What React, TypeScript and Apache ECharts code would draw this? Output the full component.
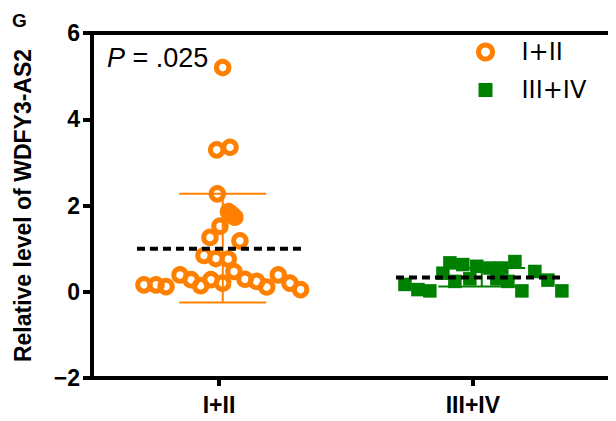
import React, { useEffect, useRef } from "react";
import * as echarts from "echarts";

const categories = ["I+II", "III+IV"];
const categoryPositions = [1, 3];

// Group I+II: values and horizontal scatter offsets
const groupAValues = [5.2, 3.29, 3.35, 2.27, 1.86, 1.8, 1.73, 1.52, 1.26, 1.18, 0.84, 0.77, 0.76, 0.39, 0.28, 0.14, 0.28, 0.2, 0.47, 0.29, 0.24, 0.11, 0.39, 0.2, 0.05, 0.16, 0.16, 0.12];
const groupAOffsets = [0.029, -0.018, 0.087, -0.013, 0.075, 0.1, 0.125, 0.008, -0.071, 0.165, -0.118, -0.024, 0.073, -0.307, -0.22, -0.144, -0.063, 0.029, 0.118, 0.205, 0.297, 0.376, 0.467, 0.559, 0.643, -0.591, -0.496, -0.417];

// Group III+IV
const groupBValues = [0.17, 0.05, 0.02, 0.43, 0.67, 0.24, 0.63, 0.3, 0.59, 0.55, 0.3, 0.55, 0.24, 0.7, 0.02, 0.47, 0.27, 0.02];
const groupBOffsets = [-0.535, -0.433, -0.339, -0.236, -0.181, -0.142, -0.079, -0.024, 0.031, 0.134, 0.189, 0.228, 0.276, 0.331, 0.386, 0.488, 0.591, 0.701];

const means = [1.0, 0.33];
const meanOffsets = [0, 0.04];
const sdLower = [-0.25, 0.12];
const sdUpper = [2.27, 0.55];
const errOffsets = [0.03, 0.07];

const yTicks = { min: -2, max: 6, interval: 2 };
const pValueText = ".025";
const panelLabel = "G";

const ORANGE = "#FF8000";
const GREEN = "#008000";
const FONT = "Liberation Sans";

export default function App() {
  const ref = useRef<HTMLDivElement>(null);
  useEffect(() => {
    if (!ref.current) return;
    const chart = echarts.init(ref.current, null, { renderer: "svg" });
    const aData = groupAValues.map((v, i) => [categoryPositions[0] + groupAOffsets[i], v]);
    const bData = groupBValues.map((v, i) => [categoryPositions[1] + groupBOffsets[i], v]);
    const meanData = means.map((m, i) => [categoryPositions[i] + meanOffsets[i], m]);
    const errData = means.map((m, i) => [categoryPositions[i] + errOffsets[i], sdLower[i], sdUpper[i]]);
    const errColors = [ORANGE, GREEN];

    chart.setOption({
      animation: false,
      grid: {
        left: 92,
        right: 6,
        top: 33,
        bottom: 43,
        show: true,
        borderColor: "#000",
        borderWidth: 4,
      },
      xAxis: {
        type: "value",
        min: 0,
        max: 4.08,
        splitLine: { show: false },
        axisLine: { show: true, onZero: false, lineStyle: { color: "#000", width: 4 } },
        axisTick: { show: true, customValues: categoryPositions, length: 8, lineStyle: { width: 4, color: "#000" } },
        axisLabel: {
          customValues: categoryPositions,
          formatter: (v: number) => categories[categoryPositions.indexOf(v)] ?? "",
          fontFamily: FONT,
          fontWeight: "bold",
          fontSize: 23,
          color: "#000",
          margin: 15,
        },
      },
      yAxis: {
        type: "value",
        min: yTicks.min,
        max: yTicks.max,
        interval: yTicks.interval,
        name: "Relative level of WDFY3-AS2",
        nameLocation: "middle",
        nameGap: 58,
        nameTextStyle: { fontFamily: FONT, fontWeight: "bold", fontSize: 23, color: "#000" },
        splitLine: { show: false },
        axisLine: { show: true, onZero: false, lineStyle: { color: "#000", width: 4 } },
        axisTick: { show: true, length: 9, lineStyle: { width: 4, color: "#000" } },
        axisLabel: {
          fontFamily: FONT,
          fontWeight: "bold",
          fontSize: 23,
          color: "#000",
          margin: 12,
          formatter: (v: number) => (v < 0 ? "\u2212" + Math.abs(v) : String(v)),
        },
      },
      legend: {
        orient: "vertical",
        left: 476,
        top: 38,
        padding: 0,
        itemWidth: 14,
        itemHeight: 14,
        itemGap: 10,
        textStyle: { fontFamily: "DejaVu Sans", fontSize: 24, color: "#000", lineHeight: 28, padding: [0, 0, 0, 24] },
        data: [
          { name: categories[0], icon: "circle", itemStyle: { color: "rgba(0,0,0,0)", borderColor: ORANGE, borderWidth: 5, opacity: 1 } },
          { name: categories[1], icon: "rect", itemStyle: { color: GREEN, borderWidth: 0, opacity: 1 } },
        ],
      },
      graphic: [
        {
          type: "text",
          x: 12,
          y: 20,
          style: {
            text: "{g|" + panelLabel + "}",
            fontFamily: FONT,
            fontSize: 19,
            fontWeight: "bold",
            fill: "#000",
            verticalAlign: "middle",
            rich: { g: { fontSize: 19, fontWeight: "bold", fontFamily: FONT } },
          },
        },
        {
          type: "text",
          x: 107,
          y: 58,
          style: {
            text: "{i|P} = " + pValueText,
            fontFamily: FONT,
            fontSize: 27,
            fill: "#000",
            verticalAlign: "middle",
            rich: { i: { fontStyle: "italic", fontSize: 27, fontFamily: FONT } },
          },
        },
      ],
      series: [
        {
          name: categories[0],
          type: "scatter",
          symbol: "circle",
          symbolSize: 12.5,
          itemStyle: { color: "rgba(0,0,0,0)", borderColor: ORANGE, borderWidth: 5, opacity: 1 },
          data: aData,
          z: 2,
        },
        {
          name: categories[1],
          type: "scatter",
          symbol: "rect",
          symbolSize: 13.5,
          itemStyle: { color: GREEN, opacity: 1 },
          data: bData,
          z: 2,
        },
        {
          type: "custom",
          name: "sd",
          z: 3,
          data: errData,
          renderItem: (params: any, api: any) => {
            const x = api.value(0);
            const lo = api.coord([x, api.value(1)]);
            const hi = api.coord([x, api.value(2)]);
            const color = errColors[params.dataIndex];
            const half = 43.5;
            const style = { stroke: color, lineWidth: 2 };
            return {
              type: "group",
              children: [
                { type: "line", shape: { x1: lo[0], y1: lo[1], x2: hi[0], y2: hi[1] }, style },
                { type: "line", shape: { x1: lo[0] - half, y1: lo[1], x2: lo[0] + half, y2: lo[1] }, style },
                { type: "line", shape: { x1: hi[0] - half, y1: hi[1], x2: hi[0] + half, y2: hi[1] }, style },
              ],
            };
          },
        },
        {
          type: "custom",
          name: "mean",
          z: 4,
          data: meanData,
          renderItem: (params: any, api: any) => {
            const p = api.coord([api.value(0), api.value(1)]);
            const half = 82;
            return {
              type: "line",
              shape: { x1: p[0] - half, y1: p[1], x2: p[0] + half, y2: p[1] },
              style: { stroke: "#000", lineWidth: 4, lineDash: [8, 5] },
            };
          },
        },
      ],
    });
    return () => chart.dispose();
  }, []);
  return <div ref={ref} style={{ width: 616, height: 421, margin: -8 }} />;
}
